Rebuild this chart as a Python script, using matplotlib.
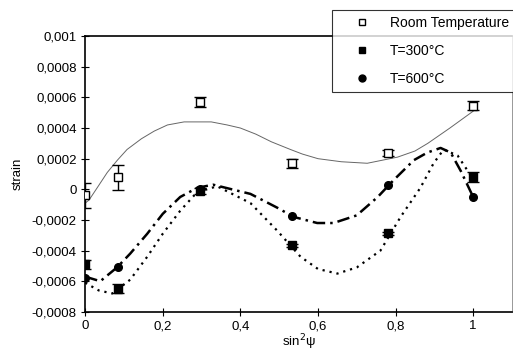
import matplotlib.pyplot as plt
from matplotlib.lines import Line2D

plt.rcParams['font.family'] = ['Liberation Sans', 'DejaVu Sans']

# measured points (sin^2 psi, strain, error)
x_pts = [0.0, 0.085, 0.297, 0.534, 0.78, 1.0]
rt_strain = [-0.00004, 0.000078, 0.00057, 0.00017, 0.000235, 0.000547]
rt_err = [0.00008, 0.00008, 0.00003, 0.00003, 0.00002, 0.00003]
t300_strain = [-0.00049, -0.00065, -0.00001, -0.000365, -0.000287, 0.00008]
t300_err = [0.00003, 0.00003, 0.00002, 0.00001, 0.00001, 0.00003]
t600_strain = [-0.00058, -0.00051, 0.0, -0.000176, 0.000026, -0.00005]

# fitted curves
rt_fit_x = [0.0, 0.01, 0.031, 0.057, 0.083, 0.108, 0.145, 0.178, 0.212, 0.255, 0.289,
            0.325, 0.366, 0.40, 0.44, 0.48, 0.529, 0.56, 0.6, 0.66, 0.727, 0.805,
            0.85, 0.883, 0.94, 1.0]
rt_fit_y = [-0.00009, -0.00007, 0.00001, 0.00011, 0.00019, 0.00026, 0.00033, 0.00038,
            0.00042, 0.00044, 0.00044, 0.00044, 0.00042, 0.0004, 0.00036, 0.00031,
            0.00026, 0.00023, 0.0002, 0.00018, 0.00017, 0.00021, 0.00025, 0.0003,
            0.0004, 0.00051]

t300_fit_x = [0.0, 0.035, 0.07, 0.116, 0.16, 0.2, 0.245, 0.288, 0.34, 0.426, 0.495,
              0.555, 0.6, 0.65, 0.70, 0.761, 0.813, 0.864, 0.898, 0.924, 0.96, 0.986, 1.0]
t300_fit_y = [-0.00061, -0.00066, -0.00068, -0.00059, -0.00044, -0.00029, -0.00014,
              -0.00002, 0.00002, -0.00009, -0.00027, -0.00044, -0.00052, -0.00055,
              -0.00051, -0.0004, -0.00018, 0.00001, 0.00017, 0.00026, 0.00022, 0.00012, 0.00007]

t600_fit_x = [0.0, 0.039, 0.082, 0.116, 0.16, 0.2, 0.245, 0.289, 0.33, 0.426, 0.495,
              0.537, 0.598, 0.64, 0.70, 0.754, 0.795, 0.847, 0.882, 0.916, 0.942, 0.968, 1.0]
t600_fit_y = [-0.00057, -0.0006, -0.00051, -0.00042, -0.00029, -0.00016, -0.00005,
              0.00001, 0.00003, -0.00003, -0.00012, -0.00018, -0.00022, -0.00022,
              -0.00017, -0.00005, 0.00006, 0.00019, 0.00024, 0.00027, 0.00024, 0.00012, -0.00005]

series_names = ['Room Temperature', 'T=300°C', 'T=600°C']

x_ticks = [0, 0.2, 0.4, 0.6, 0.8, 1.0]
x_labels = ['0', '0,2', '0,4', '0,6', '0,8', '1']
y_ticks = [-0.0008, -0.0006, -0.0004, -0.0002, 0, 0.0002, 0.0004, 0.0006, 0.0008, 0.001]
y_labels = ['-0,0008', '-0,0006', '-0,0004', '-0,0002', '0', '0,0002', '0,0004',
            '0,0006', '0,0008', '0,001']

fig = plt.figure(figsize=(5.13, 3.54), dpi=100)
ax = fig.add_axes([0.166, 0.119, 0.832, 0.779])

ax.plot(rt_fit_x, rt_fit_y, color='#666666', lw=0.7, zorder=2)
ax.plot(t300_fit_x, t300_fit_y, color='black', lw=1.6, linestyle=(0, (1, 2.2)), zorder=2)
ax.plot(t600_fit_x, t600_fit_y, color='black', lw=1.8, linestyle=(0, (5, 2, 1, 2)), zorder=2)

ax.errorbar(x_pts, rt_strain, yerr=rt_err, fmt='s', mfc='white', mec='black', mew=1,
            ms=5.5, ecolor='black', elinewidth=1, capsize=4, capthick=1, zorder=4)
ax.errorbar(x_pts, t300_strain, yerr=t300_err, fmt='s', mfc='black', mec='black',
            ms=5.5, ecolor='black', elinewidth=1, capsize=4, capthick=1, zorder=4)
ax.plot(x_pts, t600_strain, 'o', color='black', ms=5.5, zorder=4)

ax.set_xlim(0, 1.1)
ax.set_ylim(-0.0008, 0.001)
ax.set_xticks(x_ticks)
ax.set_xticklabels(x_labels)
ax.set_yticks(y_ticks)
ax.set_yticklabels(y_labels)
ax.tick_params(direction='inout', length=6, width=0.8, labelsize=9.5, pad=3)
for s in ax.spines.values():
    s.set_linewidth(1.2)
ax.spines['right'].set_linewidth(0.6)
ax.spines['right'].set_color('#888888')

ax.set_xlabel('sin$^2$ψ', fontsize=9.5, labelpad=0)
ax.set_ylabel('strain', fontsize=9.5, labelpad=6)

handles = [
    Line2D([], [], ls='none', marker='s', mfc='white', mec='black', ms=5),
    Line2D([], [], ls='none', marker='s', mfc='black', mec='black', ms=5),
    Line2D([], [], ls='none', marker='o', mfc='black', mec='black', ms=5),
]
leg = ax.legend(handles, series_names, loc='upper left',
                bbox_to_anchor=(0.647, 0.972), bbox_transform=fig.transFigure,
                fontsize=10, frameon=True, fancybox=False, edgecolor='black',
                labelspacing=1.0, handletextpad=0.3, borderpad=0.45, handlelength=3.4,
                borderaxespad=0)
leg.get_frame().set_linewidth(0.8)
leg.set_zorder(10)

fig.savefig('out.png', dpi=100)
